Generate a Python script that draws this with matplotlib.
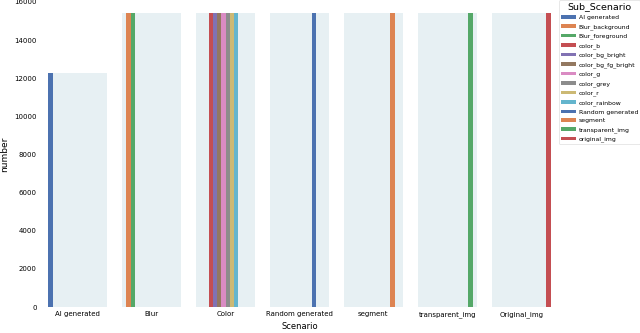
import numpy as np
import matplotlib.pyplot as plt
import seaborn as sns
from matplotlib.patches import Patch

scenarios = ['AI generated', 'Blur', 'Color', 'Random generated',
             'segment', 'transparent_img', 'Original_img']
scenario_totals = [12250, 15400, 15400, 15400, 15400, 15400, 15400]

sub_scenarios = ['AI generated', 'Blur_background', 'Blur_foreground', 'color_b',
                 'color_bg_bright', 'color_bg_fg_bright', 'color_g', 'color_grey',
                 'color_r', 'color_rainbow', 'Random generated', 'segment',
                 'transparent_img', 'original_img']
sub_parent = ['AI generated', 'Blur', 'Blur', 'Color', 'Color', 'Color', 'Color',
              'Color', 'Color', 'Color', 'Random generated', 'segment',
              'transparent_img', 'Original_img']
sub_counts = [12250, 15400, 15400, 15400, 15400, 15400, 15400, 15400,
              15400, 15400, 15400, 15400, 15400, 15400]

palette = sns.color_palette('deep', 10)

fig = plt.figure(figsize=(6.4, 3.33), dpi=100)
ax = fig.add_axes([0.064, 0.078, 0.808, 0.916])

x = np.arange(len(scenarios))
group_w = 0.8
ax.bar(x, scenario_totals, width=group_w, color='#e7f0f3', zorder=1)

n = len(sub_scenarios)
w = group_w / n
handles = []
for i, (name, parent, cnt) in enumerate(zip(sub_scenarios, sub_parent, sub_counts)):
    c = palette[i % 10]
    pos = scenarios.index(parent) - group_w / 2 + w * (i + 0.5)
    ax.bar(pos, cnt, width=w, color=c, zorder=2)
    handles.append(Patch(facecolor=c, label=name))

ax.set_xlim(-0.5, len(scenarios) - 0.5)
ax.set_ylim(0, 16000)
ax.set_xticks(x)
ax.set_xticklabels(scenarios)
ax.set_yticks(np.arange(0, 16001, 2000))
ax.tick_params(axis='both', length=0, labelsize=5, pad=3)
for s in ax.spines.values():
    s.set_visible(False)
ax.set_xlabel('Scenario', fontsize=6, labelpad=3)
ax.set_ylabel('number', fontsize=6.5, labelpad=4)

leg = ax.legend(handles=handles, title='Sub_Scenario', loc='upper left',
                bbox_to_anchor=(1.001, 1.005), fontsize=4.4, title_fontsize=6.8,
                handlelength=2.5, handleheight=0.55, labelspacing=0.62,
                frameon=True, borderpad=0.35, handletextpad=0.45,
                borderaxespad=0.0)
leg.get_frame().set_edgecolor('#dddddd')
leg.get_frame().set_linewidth(0.6)

fig.savefig('out.png', dpi=100)
